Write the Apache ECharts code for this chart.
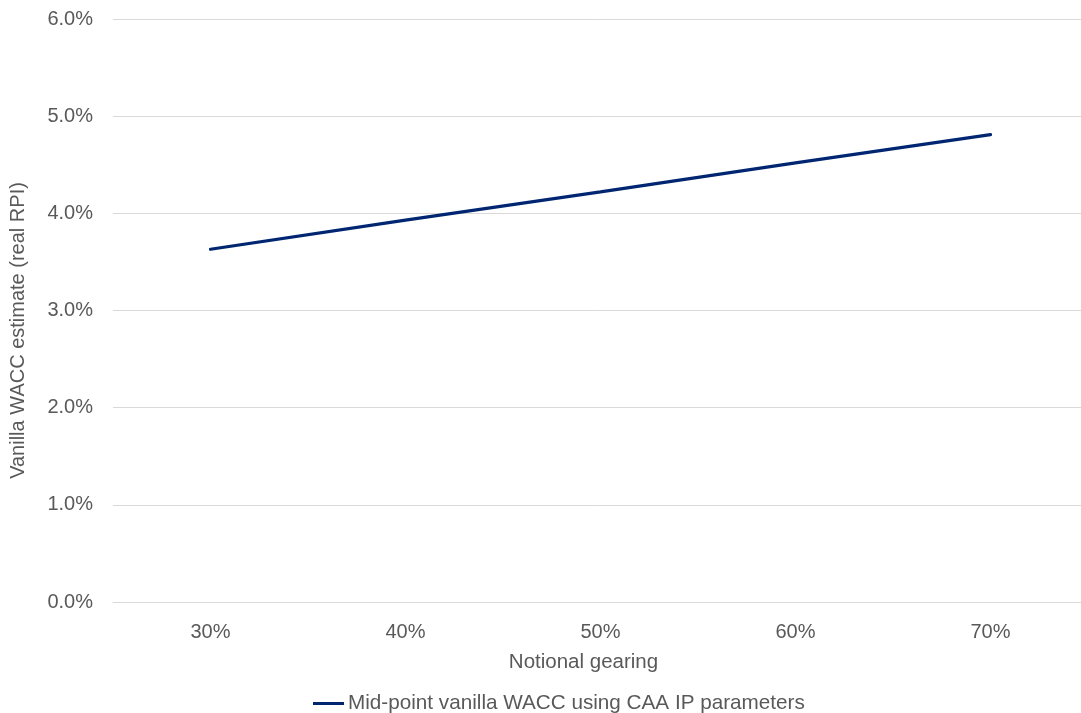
<!DOCTYPE html>
<html>
<head>
<meta charset="utf-8">
<script src="https://cdn.jsdelivr.net/npm/echarts@6/dist/echarts.min.js"></script>
<style>
html,body{margin:0;padding:0;background:#fff;}
#chart{width:1081px;height:713px;}
</style>
</head>
<body>
<div id="chart"></div>
<script>
const categories = ['30%', '40%', '50%', '60%', '70%'];
const seriesName = 'Mid-point vanilla WACC using CAA IP parameters';
const waccValues = [3.63, 3.93, 4.22, 4.52, 4.81];
const yTicks = { min: 0, max: 6, interval: 1 };
const xAxisTitle = 'Notional gearing';
const yAxisTitle = 'Vanilla WACC estimate (real RPI)';

const textColor = '#595959';
const fontFamily = '"Liberation Sans", Arial, sans-serif';
const chart = echarts.init(document.getElementById('chart'), null, { renderer: 'canvas' });
chart.setOption({
  animation: false,
  backgroundColor: '#ffffff',
  textStyle: { fontFamily: fontFamily, color: textColor },
  grid: { left: 113, top: 19, width: 975, height: 583, containLabel: false, outerBoundsMode: 'none' },
  legend: {
    left: 313,
    top: 693,
    padding: 0,
    itemWidth: 31,
    itemHeight: 3,
    itemGap: 10,
    icon: 'rect',
    textStyle: { fontSize: 20.7, color: textColor, fontFamily: fontFamily, padding: [0, 0, 0, -1] },
    data: [seriesName]
  },
  xAxis: {
    type: 'category',
    data: categories,
    boundaryGap: true,
    axisLine: { show: true, lineStyle: { color: '#d9d9d9', width: 1 } },
    axisTick: { show: false },
    axisLabel: { fontSize: 20, color: textColor, fontFamily: fontFamily, margin: 20 },
    name: xAxisTitle,
    nameLocation: 'middle',
    nameGap: 50,
    nameTextStyle: { fontSize: 20.5, color: textColor, fontFamily: fontFamily, padding: [0, 34, 0, 0] }
  },
  yAxis: {
    type: 'value',
    min: yTicks.min,
    max: yTicks.max,
    interval: yTicks.interval,
    axisLine: { show: false },
    axisTick: { show: false },
    splitLine: { show: true, lineStyle: { color: '#d9d9d9', width: 1 } },
    axisLabel: {
      fontSize: 20, color: textColor, fontFamily: fontFamily, margin: 20,
      formatter: function (v) { return v.toFixed(1) + '%'; }
    },
    name: yAxisTitle,
    nameLocation: 'middle',
    nameGap: 85,
    nameRotate: 90,
    nameTextStyle: { fontSize: 20, color: textColor, fontFamily: fontFamily, padding: [0, 40, 0, 0] }
  },
  series: [{
    name: seriesName,
    type: 'line',
    data: waccValues,
    showSymbol: false,
    symbol: 'none',
    lineStyle: { color: '#002672', width: 3.2, cap: 'round' },
    itemStyle: { color: '#002672' }
  }]
});
</script>
</body>
</html>
